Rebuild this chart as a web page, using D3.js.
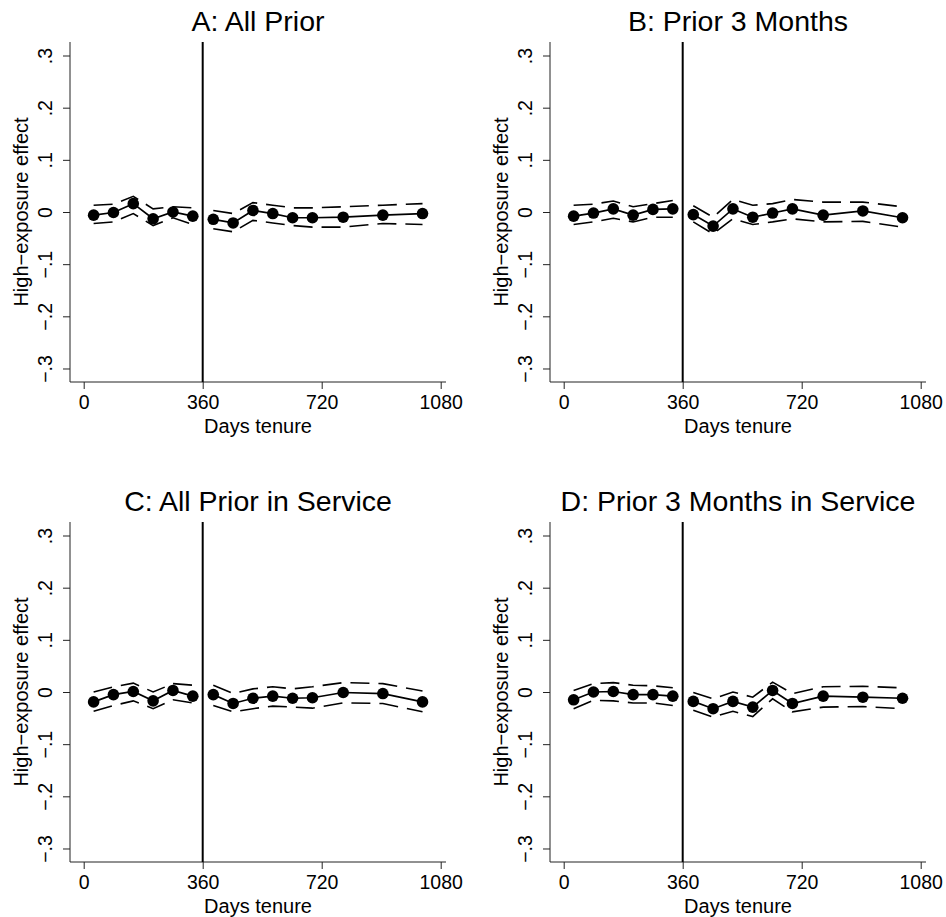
<!DOCTYPE html>
<html>
<head>
<meta charset="utf-8">
<script src="https://cdn.jsdelivr.net/npm/d3@7"></script>
<style>
  html, body { margin: 0; padding: 0; background: #fff; }
  svg { display: block; }
  text { font-family: "Liberation Sans", Arial, Helvetica, sans-serif; fill: #000; }
</style>
</head>
<body>
<svg id="chart" width="946" height="917"></svg>
<script>
// ---------- data ----------
const days = [30, 90, 150, 210, 270, 330, 392, 452, 512, 572, 632, 692, 785, 905, 1025];
const cutoff = 360;
const xTicks = [0, 360, 720, 1080];
const yTicks = [-0.3, -0.2, -0.1, 0, 0.1, 0.2, 0.3];
const titles = ["A: All Prior", "B: Prior 3 Months", "C: All Prior in Service", "D: Prior 3 Months in Service"];
const xLabel = "Days tenure";
const yLabel = "High\u2212exposure effect";

const estA = [-0.006, -0.001, 0.016, -0.013, 0.000, -0.008, -0.014, -0.021, 0.003, -0.003, -0.011, -0.011, -0.010, -0.006, -0.003];
const hiA  = [0.013, 0.015, 0.030, 0.006, 0.010, 0.008, 0.003, -0.003, 0.018, 0.013, 0.008, 0.008, 0.010, 0.013, 0.016];
const loA  = [-0.022, -0.019, -0.003, -0.026, -0.011, -0.024, -0.032, -0.038, -0.016, -0.021, -0.026, -0.029, -0.029, -0.022, -0.024];

const estB = [-0.008, -0.002, 0.006, -0.006, 0.005, 0.006, -0.005, -0.027, 0.006, -0.010, -0.002, 0.006, -0.006, 0.002, -0.011];
const hiB  = [0.013, 0.015, 0.021, 0.010, 0.016, 0.022, 0.012, -0.010, 0.024, 0.013, 0.016, 0.024, 0.019, 0.019, 0.010];
const loB  = [-0.024, -0.019, -0.012, -0.019, -0.010, -0.010, -0.019, -0.042, -0.013, -0.024, -0.019, -0.013, -0.019, -0.018, -0.029];

const estC = [-0.019, -0.005, 0.001, -0.017, 0.003, -0.008, -0.005, -0.022, -0.012, -0.008, -0.012, -0.011, -0.001, -0.003, -0.019];
const hiC  = [0.000, 0.010, 0.017, 0.000, 0.016, 0.013, 0.013, -0.003, 0.006, 0.010, 0.006, 0.010, 0.018, 0.016, 0.002];
const loC  = [-0.037, -0.026, -0.017, -0.032, -0.015, -0.021, -0.026, -0.038, -0.032, -0.027, -0.029, -0.031, -0.021, -0.022, -0.038];

const estD = [-0.015, 0.000, 0.001, -0.005, -0.005, -0.008, -0.018, -0.032, -0.018, -0.029, 0.003, -0.022, -0.008, -0.010, -0.012];
const hiD  = [0.003, 0.016, 0.018, 0.013, 0.012, 0.008, -0.001, -0.013, 0.000, -0.010, 0.019, -0.003, 0.010, 0.011, 0.008];
const loD  = [-0.032, -0.016, -0.017, -0.021, -0.021, -0.026, -0.035, -0.048, -0.037, -0.047, -0.013, -0.038, -0.029, -0.028, -0.032];

const panels = [
  { title: titles[0], est: estA, lo: loA, hi: hiA },
  { title: titles[1], est: estB, lo: loB, hi: hiB },
  { title: titles[2], est: estC, lo: loC, hi: hiC },
  { title: titles[3], est: estD, lo: loD, hi: hiD }
];

// ---------- layout ----------
const svg = d3.select("#chart");
const panelStep = 480;
const plotLeft = 70, plotRight = 446, plotTop = 42, plotBottom = 382;
const tickFont = 19.5, labelFont = 20, titleFont = 28.5;

const fmt = v => {
  if (v === 0) return "0";
  const s = d3.format(".1f")(Math.abs(v)).replace(/^0/, "");
  return (v < 0 ? "\u2212" : "") + s;
};

panels.forEach((p, i) => {
  const ox = (i % 2) * panelStep;
  const oy = Math.floor(i / 2) * panelStep;
  const g = svg.append("g").attr("transform", `translate(${ox},${oy})`);

  const x = d3.scaleLinear().domain([0, 1080]).range([83.7, 440.7]);
  const y = d3.scaleLinear().domain([-0.3259, 0.3259]).range([plotBottom, plotTop]);

  // title
  g.append("text")
    .attr("x", (plotLeft + plotRight) / 2).attr("y", 31)
    .attr("text-anchor", "middle").style("font-size", titleFont + "px")
    .text(p.title);

  // y axis
  const ya = g.append("g").attr("transform", `translate(${plotLeft},0)`)
    .call(d3.axisLeft(y).tickValues(yTicks).tickSize(7).tickSizeOuter(0).tickFormat(fmt));
  ya.select(".domain").remove();
  ya.selectAll(".tick line").attr("stroke", "#222").attr("stroke-width", 1);
  ya.selectAll(".tick text")
    .attr("x", null).attr("dy", null)
    .attr("transform", `translate(${52 - plotLeft},0) rotate(-90)`)
    .attr("text-anchor", "middle")
    .style("font-size", tickFont + "px").style("font-family", null);
  g.append("line").attr("x1", plotLeft).attr("x2", plotLeft)
    .attr("y1", plotTop).attr("y2", plotBottom)
    .attr("stroke", "#222").attr("stroke-width", 1);

  // x axis
  const xa = g.append("g").attr("transform", `translate(0,${plotBottom})`)
    .call(d3.axisBottom(x).tickValues(xTicks).tickSize(7).tickSizeOuter(0).tickFormat(d3.format("d")));
  xa.select(".domain").remove();
  xa.selectAll(".tick line").attr("stroke", "#222").attr("stroke-width", 1);
  xa.selectAll(".tick text")
    .attr("y", 409 - plotBottom).attr("dy", null)
    .style("font-size", tickFont + "px").style("font-family", null);
  g.append("line").attr("x1", plotLeft).attr("x2", plotRight)
    .attr("y1", plotBottom).attr("y2", plotBottom)
    .attr("stroke", "#222").attr("stroke-width", 1);

  // axis titles
  g.append("text")
    .attr("x", (plotLeft + plotRight) / 2).attr("y", 433)
    .attr("text-anchor", "middle").style("font-size", labelFont + "px")
    .text(xLabel);
  g.append("text")
    .attr("transform", `translate(28,${(plotTop + plotBottom) / 2}) rotate(-90)`)
    .attr("text-anchor", "middle").style("font-size", labelFont + "px")
    .text(yLabel);

  // vertical cutoff line
  g.append("line")
    .attr("x1", x(cutoff)).attr("x2", x(cutoff))
    .attr("y1", plotTop).attr("y2", plotBottom)
    .attr("stroke", "#000").attr("stroke-width", 2);

  const rows = days.map((d, k) => ({ d, est: p.est[k], lo: p.lo[k], hi: p.hi[k] }));
  const segs = [rows.filter(r => r.d < cutoff), rows.filter(r => r.d > cutoff)];

  const lineEst = d3.line().x(r => x(r.d)).y(r => y(r.est));
  const lineLo = d3.line().x(r => x(r.d)).y(r => y(r.lo));
  const lineHi = d3.line().x(r => x(r.d)).y(r => y(r.hi));

  segs.forEach(seg => {
    [lineLo, lineHi].forEach(fn => {
      g.append("path").attr("d", fn(seg))
        .attr("fill", "none").attr("stroke", "#000")
        .attr("stroke-width", 1.6).attr("stroke-dasharray", "19,9");
    });
    g.append("path").attr("d", lineEst(seg))
      .attr("fill", "none").attr("stroke", "#000").attr("stroke-width", 1.7);
  });

  g.selectAll("circle.pt").data(rows).enter().append("circle")
    .attr("class", "pt")
    .attr("cx", r => x(r.d)).attr("cy", r => y(r.est))
    .attr("r", 5.8).attr("fill", "#000");
});
</script>
</body>
</html>
